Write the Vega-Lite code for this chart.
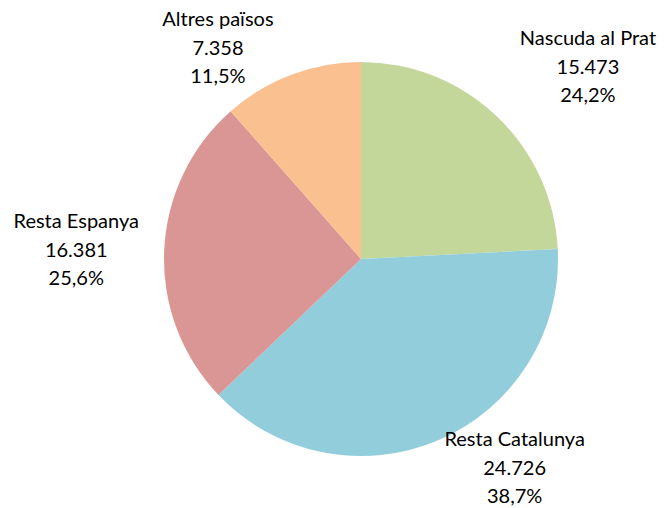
{
  "$schema": "https://vega.github.io/schema/vega-lite/v6.json",
  "autosize": "none",
  "padding": {"left": 58, "top": 10, "right": 0, "bottom": 0},
  "width": 606,
  "height": 498,
  "background": "white",
  "config": {
    "view": {"stroke": null},
    "locale": {"number": {"decimal": ",", "thousands": ".", "grouping": [3], "currency": ["", " €"]}}
  },
  "data": {
    "values": [
      {"cat": "Nascuda al Prat", "value": 15473, "ord": 1},
      {"cat": "Resta Catalunya", "value": 24726, "ord": 2},
      {"cat": "Resta Espanya", "value": 16381, "ord": 3},
      {"cat": "Altres països", "value": 7358, "ord": 4}
    ]
  },
  "transform": [
    {"stack": "value", "groupby": [], "sort": [{"field": "ord", "order": "ascending"}], "as": ["v0", "v1"]},
    {"joinaggregate": [{"op": "sum", "field": "value", "as": "total"}]},
    {"calculate": "(datum.v0 + datum.v1) / 2", "as": "mid"},
    {"calculate": "[datum.cat, format(datum.value, ','), format(datum.value / datum.total, '.1%')]", "as": "label"}
  ],
  "layer": [
    {
      "mark": {"type": "arc", "outerRadius": 197, "stroke": null},
      "encoding": {
        "theta": {"field": "v0", "type": "quantitative", "scale": {"domain": [0, 63938]}},
        "theta2": {"field": "v1"},
        "color": {
          "field": "cat",
          "type": "nominal",
          "scale": {
            "domain": ["Nascuda al Prat", "Resta Catalunya", "Resta Espanya", "Altres països"],
            "range": ["#C4D79B", "#92CDDC", "#DA9694", "#FAC090"]
          },
          "legend": null
        }
      }
    },
    {
      "transform": [{"filter": "datum.ord == 1"}],
      "mark": {"type": "text", "radius": 280, "dx": 34, "dy": -17, "font": "Lato", "fontSize": 20, "lineHeight": 28.5, "baseline": "middle", "align": "center", "color": "#000000"},
      "encoding": {"theta": {"field": "mid", "type": "quantitative", "scale": {"domain": [0, 63938]}}, "text": {"field": "label"}}
    },
    {
      "transform": [{"filter": "datum.ord == 2"}],
      "mark": {"type": "text", "radius": 280, "dx": 43, "dy": -76, "font": "Lato", "fontSize": 20, "lineHeight": 28.5, "baseline": "middle", "align": "center", "color": "#000000"},
      "encoding": {"theta": {"field": "mid", "type": "quantitative", "scale": {"domain": [0, 63938]}}, "text": {"field": "label"}}
    },
    {
      "transform": [{"filter": "datum.ord == 3"}],
      "mark": {"type": "text", "radius": 280, "dx": -5, "dy": -25, "font": "Lato", "fontSize": 20, "lineHeight": 28.5, "baseline": "middle", "align": "center", "color": "#000000"},
      "encoding": {"theta": {"field": "mid", "type": "quantitative", "scale": {"domain": [0, 63938]}}, "text": {"field": "label"}}
    },
    {
      "transform": [{"filter": "datum.ord == 4"}],
      "mark": {"type": "text", "radius": 280, "dx": -44, "dy": 23, "font": "Lato", "fontSize": 20, "lineHeight": 28.5, "baseline": "middle", "align": "center", "color": "#000000"},
      "encoding": {"theta": {"field": "mid", "type": "quantitative", "scale": {"domain": [0, 63938]}}, "text": {"field": "label"}}
    }
  ]
}
